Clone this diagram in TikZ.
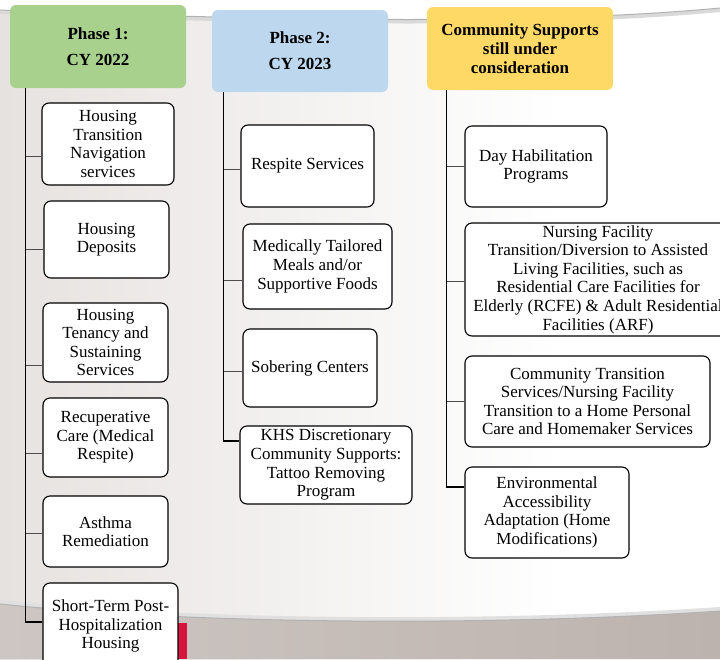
\documentclass[tikz,border=0pt]{standalone}
\usepackage{fontspec}
\setmainfont{Liberation Serif}
\usetikzlibrary{positioning,calc}

\definecolor{phaseone}{HTML}{A9D18E}
\definecolor{phasetwo}{HTML}{BDD7EE}
\definecolor{phasethree}{HTML}{FFD966}
\definecolor{bgleft}{HTML}{E6E2E0}
\definecolor{bandleft}{HTML}{CDC6C2}
\definecolor{bandright}{HTML}{BDB3AE}
\definecolor{logored}{HTML}{D7143C}

\begin{document}
\begin{tikzpicture}[x=1pt, y=-1pt, auto]
  \tikzset{
    header/.style={rectangle, rounded corners=6pt, inner sep=1pt, align=center, text=black, font=\fontsize{17}{19}\selectfont\bfseries},
    item/.style={rectangle, rounded corners=7pt, draw=black, line width=1.1pt, fill=white, inner sep=1pt, align=center, text=black, font=\fontsize{17}{18.6}\selectfont},
    trunk/.style={draw=black, line width=1.2pt},
    branch/.style={draw=black!70, line width=0.9pt}
  }
  \useasboundingbox (0,0) rectangle (720,659);
  \clip (0,0) rectangle (720,659);

  % slide background
  \fill[white] (0,0) rectangle (720,659);
  \shade[left color=bgleft, right color=white] (0,0) rectangle (560,659);
  \draw[line width=4pt, black!15] (0,12) .. controls (300,24) and (550,26) .. (720,10);
  \fill[white] (0,0) -- (0,10) .. controls (300,22) and (550,24) .. (720,8) -- (720,0) -- cycle;
  \draw[line width=1pt, black!30] (0,10) .. controls (300,22) and (550,24) .. (720,8);
  \draw[line width=4pt, black!12] (0,602) .. controls (200,623) and (500,624) .. (720,609);
  \shade[left color=bandleft, right color=bandright] (0,604) .. controls (200,625) and (500,626) .. (720,611) -- (720,659) -- (0,659) -- cycle;
  \draw[line width=1pt, black!30] (0,604) .. controls (200,625) and (500,626) .. (720,611);
  \fill[logored] (175,623) rectangle (187,659);

  % phase headers
  \node at (98, 46.5) [header, fill=phaseone, minimum width=176pt, minimum height=83pt] (h1) {Phase 1:\\[7pt]CY 2022};
  \node at (300, 51) [header, fill=phasetwo, minimum width=176pt, minimum height=82pt] (h2) {Phase 2:\\[7pt]CY 2023};
  \node at (520, 48.5) [header, fill=phasethree, minimum width=186pt, minimum height=83pt] (h3) {Community Supports\\still under\\consideration};

  % phase 1
  \node at (108, 144) [item, minimum width=132pt, minimum height=82pt] (p1a) {Housing\\Transition\\Navigation\\services};
  \node at (106.5, 239.5) [item, minimum width=125pt, minimum height=77pt] (p1b) {Housing\\Deposits};
  \node at (105.5, 342.5) [item, minimum width=125pt, minimum height=79pt] (p1c) {Housing\\Tenancy and\\Sustaining\\Services};
  \node at (105.5, 437.5) [item, minimum width=125pt, minimum height=79pt] (p1d) {Recuperative\\Care (Medical\\Respite)};
  \node at (105.5, 531.5) [item, minimum width=125pt, minimum height=71pt] (p1e) {Asthma\\Remediation};
  \node at (110.5, 626) [item, minimum width=135pt, minimum height=86pt] (p1f) {Short-Term Post-\\Hospitalization\\Housing};

  % phase 2
  \node at (307.5, 166) [item, minimum width=133pt, minimum height=82pt] (p2a) {Respite Services};
  \node at (317.5, 266.5) [item, minimum width=149pt, minimum height=85pt] (p2b) {Medically Tailored\\Meals and/or\\Supportive Foods};
  \node at (310, 368) [item, minimum width=134pt, minimum height=78pt] (p2c) {Sobering Centers};
  \node at (326, 465) [item, minimum width=172pt, minimum height=78pt] (p2d) {KHS Discretionary\\Community Supports:\\Tattoo Removing\\Program};

  % still under consideration
  \node at (536, 166.5) [item, minimum width=142pt, minimum height=81pt] (p3a) {Day Habilitation\\Programs};
  \node at (598, 279.5) [item, minimum width=266pt, minimum height=113pt] (p3b) {Nursing Facility\\Transition/Diversion to Assisted\\Living Facilities, such as\\Residential Care Facilities for\\Elderly (RCFE) \& Adult Residential\\Facilities (ARF)};
  \node at (587.5, 401.5) [item, minimum width=245pt, minimum height=91pt] (p3c) {Community Transition\\Services/Nursing Facility\\Transition to a Home Personal\\Care and Homemaker Services};
  \node at (547, 512.5) [item, minimum width=164pt, minimum height=91pt] (p3d) {Environmental\\Accessibility\\Adaptation (Home\\Modifications)};

  % connectors
  \foreach \b/\dy in {p1a/-12, p1b/-9.5, p1c/-22.5, p1d/-15.5, p1e/-1.5}
    \draw[branch] ([xshift=16pt]h1.south west) |- ([yshift=\dy pt]\b.west);
  \foreach \b/\dy in {p2a/-3, p2b/-13.5, p2c/-3}
    \draw[branch] ([xshift=12pt]h2.south west) |- ([yshift=\dy pt]\b.west);
  \foreach \b/\dy in {p3a/0, p3b/-1.5, p3c/0}
    \draw[branch] ([xshift=20pt]h3.south west) |- ([yshift=\dy pt]\b.west);
  \draw[trunk] ([xshift=16pt]h1.south west) |- ([yshift=4pt]p1f.west);
  \draw[trunk] ([xshift=12pt]h2.south west) |- ([yshift=24pt]p2d.west);
  \draw[trunk] ([xshift=20pt]h3.south west) |- ([yshift=25.5pt]p3d.west);
\end{tikzpicture}
\end{document}
